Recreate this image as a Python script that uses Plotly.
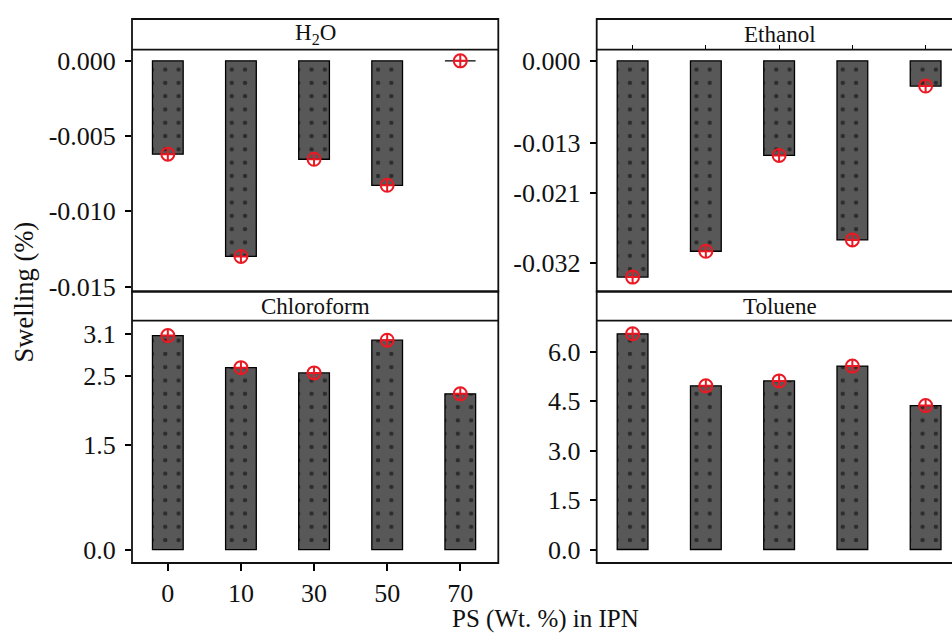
import plotly.graph_objects as go

W, H = 952, 642

# ---- data ----
ps_levels = ["0", "10", "30", "50", "70"]
h2o_values = [-0.0062, -0.0130, -0.00654, -0.00827, 0.0]
ethanol_values = [-0.0343, -0.0302, -0.0150, -0.0284, -0.0040]
chloroform_values = [3.075, 2.614, 2.539, 3.009, 2.238]
toluene_values = [6.55, 4.97, 5.12, 5.57, 4.37]

h2o_ticks = [0.0, -0.005, -0.010, -0.015]
h2o_ticktext = ["0.000", "-0.005", "-0.010", "-0.015"]
ethanol_ticks = [0.0, -0.013, -0.021, -0.032]
ethanol_ticktext = ["0.000", "-0.013", "-0.021", "-0.032"]
chloroform_ticks = [0.0, 1.5, 2.5, 3.1]
chloroform_ticktext = ["0.0", "1.5", "2.5", "3.1"]
toluene_ticks = [0.0, 1.5, 3.0, 4.5, 6.0]
toluene_ticktext = ["0.0", "1.5", "3.0", "4.5", "6.0"]

panel_titles = ["H<sub>2</sub>O", "Ethanol", "Chloroform", "Toluene"]
x_title = "PS (Wt. %) in IPN"
y_title = "Swelling (%)"

# ---- layout geometry (reference pixels) ----
FONT = "Liberation Serif, Times New Roman, serif"
BAR_COLOR = "#585858"
RED = "rgb(235,25,35)"
TXT = "#111"

colL = (132, 498.3)
colR = (596.7, 963.0)
top_strip = (17.3, 48.5)
top_plot = (48.5, 295.0)
bot_strip = (295.0, 324.7)
bot_plot = (324.7, 571.7)


def px(x):
    return x / W


def py(y):
    return 1 - y / H


fig = go.Figure()

panels = [
    dict(vals=h2o_values, ticks=h2o_ticks, tt=h2o_ticktext, col=colL, strip=top_strip,
         plot=top_plot, yr=[-0.01533, 0.00075], xr=[-0.49, 4.52]),
    dict(vals=ethanol_values, ticks=ethanol_ticks, tt=ethanol_ticktext, col=colR, strip=top_strip,
         plot=top_plot, yr=[-0.03658, 0.00178], xr=[-0.49, 4.36]),
    dict(vals=chloroform_values, ticks=chloroform_ticks, tt=chloroform_ticktext, col=colL, strip=bot_strip,
         plot=bot_plot, yr=[-0.193, 3.29], xr=[-0.49, 4.52]),
    dict(vals=toluene_values, ticks=toluene_ticks, tt=toluene_ticktext, col=colR, strip=bot_strip,
         plot=bot_plot, yr=[-0.41, 6.95], xr=[-0.49, 4.36]),
]

shapes = []
annotations = []

for i, p in enumerate(panels):
    n = "" if i == 0 else str(i + 1)
    xa, ya = "x" + n, "y" + n
    fig.add_trace(go.Bar(
        x=ps_levels, y=p["vals"], xaxis=xa, yaxis=ya, width=0.42,
        marker=dict(color=BAR_COLOR, line=dict(color="black", width=1.3),
                    pattern=dict(shape=".", fgcolor="black", bgcolor=BAR_COLOR,
                                 size=13.3, solidity=0.085, fillmode="overlay")),
        showlegend=False, hoverinfo="skip"))
    fig.add_trace(go.Scatter(
        x=ps_levels, y=p["vals"], xaxis=xa, yaxis=ya, mode="markers",
        marker=dict(symbol="circle-cross-open", size=13, color=RED, line=dict(width=2, color=RED)),
        cliponaxis=False, showlegend=False, hoverinfo="skip"))

    right_edge = min(p["col"][1], W)
    xdom = [px(p["col"][0]), min(1.0, px(right_edge))]
    ydom = [py(p["plot"][1]), py(p["plot"][0])]

    xax = dict(domain=xdom, anchor=ya, type="category", range=p["xr"],
               showgrid=False, zeroline=False, showline=False, fixedrange=True,
               showticklabels=False, ticks="")
    if i == 2:
        xax.update(ticks="outside", ticklen=7, tickwidth=1.6, tickcolor="black",
                   showticklabels=True, tickfont=dict(family=FONT, size=26, color=TXT))
    if i == 1:
        xax.update(side="top", ticks="outside", ticklen=4, tickwidth=1.3, tickcolor="black",
                   showticklabels=False)
    yax = dict(domain=ydom, anchor=xa, range=p["yr"], tickmode="array",
               tickvals=p["ticks"], ticktext=p["tt"], ticks="outside", ticklen=6,
               tickwidth=1.6, tickcolor="black", showgrid=False, zeroline=False,
               showline=False, fixedrange=True, ticklabelstandoff=4,
               tickfont=dict(family=FONT, size=26, color=TXT))
    fig.update_layout(**{"xaxis" + n: xax, "yaxis" + n: yax})

    # frame (strip + panel)
    x0, x1 = px(p["col"][0]), px(p["col"][1])
    shapes.append(dict(type="rect", xref="paper", yref="paper", x0=x0, x1=x1,
                       y0=py(p["plot"][1]), y1=py(p["strip"][0]),
                       line=dict(color=TXT, width=1.8), fillcolor="rgba(0,0,0,0)", layer="above"))
    shapes.append(dict(type="line", xref="paper", yref="paper", x0=x0, x1=x1,
                       y0=py(p["strip"][1]), y1=py(p["strip"][1]),
                       line=dict(color=TXT, width=1.8), layer="above"))
    annotations.append(dict(text=panel_titles[i], xref="paper", yref="paper",
                            x=(x0 + x1) / 2, y=py((p["strip"][0] + p["strip"][1]) / 2),
                            xanchor="center", yanchor="middle", showarrow=False,
                            font=dict(family=FONT, size=23, color=TXT)))

annotations.append(dict(text=x_title, xref="paper", yref="paper", x=px(545), y=py(629),
                        xanchor="center", yanchor="middle", showarrow=False,
                        font=dict(family=FONT, size=25, color=TXT)))
annotations.append(dict(text=y_title, xref="paper", yref="paper", x=px(24), y=py(296),
                        xanchor="center", yanchor="middle", showarrow=False, textangle=-90,
                        font=dict(family=FONT, size=26.5, color=TXT)))

fig.update_layout(width=W, height=H, margin=dict(l=0, r=0, t=0, b=0),
                  paper_bgcolor="white", plot_bgcolor="white",
                  shapes=shapes, annotations=annotations, bargap=0.5)

# remove the browser's default page margin so the figure fills the window exactly
fig.write_html("out.html", config={"displayModeBar": False}, post_script=(
    "document.documentElement.style.margin='0';"
    "document.body.style.margin='0';"
    "document.body.style.overflow='hidden';"))
